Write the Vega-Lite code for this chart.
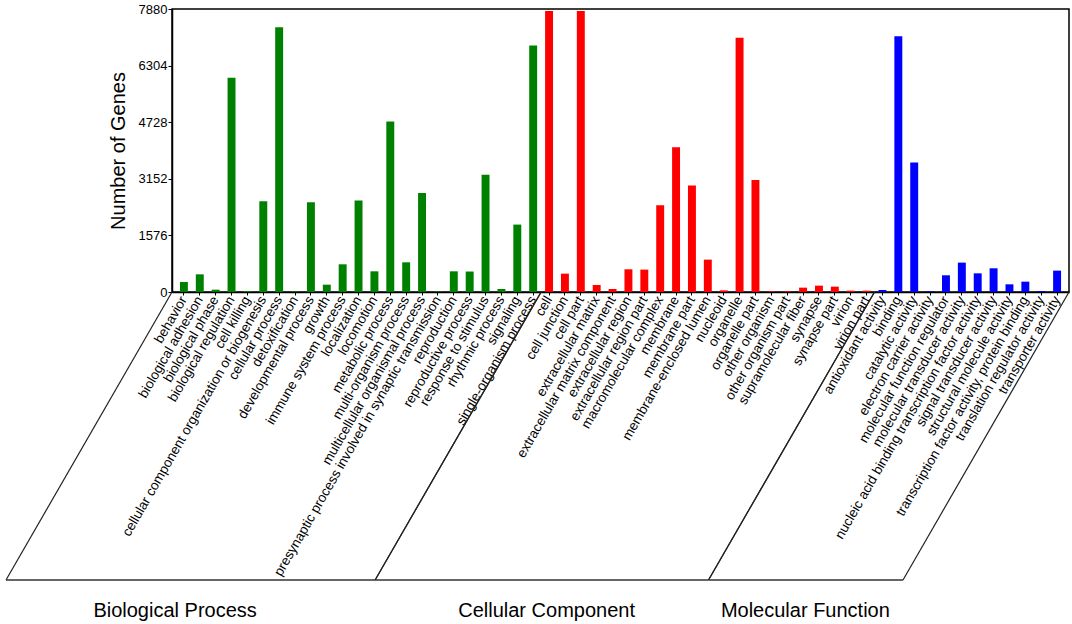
{
  "$schema": "https://vega.github.io/schema/vega-lite/v6.json",
  "width": 897,
  "height": 283,
  "autosize": "none",
  "padding": {"left": 172, "top": 9, "right": 3, "bottom": 332},
  "background": "white",
  "config": {
    "font": "Liberation Sans",
    "view": {"stroke": "black", "strokeWidth": 1.5}
  },
  "datasets": {
    "genes": [
      {"term": "behavior", "ontology": "Biological Process", "count": 279},
      {"term": "biological adhesion", "ontology": "Biological Process", "count": 492},
      {"term": "biological phase", "ontology": "Biological Process", "count": 65},
      {"term": "biological regulation", "ontology": "Biological Process", "count": 5965},
      {"term": "cell killing", "ontology": "Biological Process", "count": 28},
      {"term": "cellular component organization or biogenesis", "ontology": "Biological Process", "count": 2527},
      {"term": "cellular process", "ontology": "Biological Process", "count": 7369},
      {"term": "detoxification", "ontology": "Biological Process", "count": 15},
      {"term": "developmental process", "ontology": "Biological Process", "count": 2500},
      {"term": "growth", "ontology": "Biological Process", "count": 204},
      {"term": "immune system process", "ontology": "Biological Process", "count": 771},
      {"term": "localization", "ontology": "Biological Process", "count": 2546},
      {"term": "locomotion", "ontology": "Biological Process", "count": 576},
      {"term": "metabolic process", "ontology": "Biological Process", "count": 4748},
      {"term": "multi-organism process", "ontology": "Biological Process", "count": 827},
      {"term": "multicellular organismal process", "ontology": "Biological Process", "count": 2760},
      {"term": "presynaptic process involved in synaptic transmission", "ontology": "Biological Process", "count": 15},
      {"term": "reproduction", "ontology": "Biological Process", "count": 576},
      {"term": "reproductive process", "ontology": "Biological Process", "count": 570},
      {"term": "response to stimulus", "ontology": "Biological Process", "count": 3262},
      {"term": "rhythmic process", "ontology": "Biological Process", "count": 84},
      {"term": "signaling", "ontology": "Biological Process", "count": 1877},
      {"term": "single-organism process", "ontology": "Biological Process", "count": 6867},
      {"term": "cell", "ontology": "Cellular Component", "count": 7824},
      {"term": "cell junction", "ontology": "Cellular Component", "count": 511},
      {"term": "cell part", "ontology": "Cellular Component", "count": 7824},
      {"term": "extracellular matrix", "ontology": "Cellular Component", "count": 195},
      {"term": "extracellular matrix component", "ontology": "Cellular Component", "count": 84},
      {"term": "extracellular region", "ontology": "Cellular Component", "count": 632},
      {"term": "extracellular region part", "ontology": "Cellular Component", "count": 623},
      {"term": "macromolecular complex", "ontology": "Cellular Component", "count": 2416},
      {"term": "membrane", "ontology": "Cellular Component", "count": 4033},
      {"term": "membrane part", "ontology": "Cellular Component", "count": 2964},
      {"term": "membrane-enclosed lumen", "ontology": "Cellular Component", "count": 901},
      {"term": "nucleoid", "ontology": "Cellular Component", "count": 46},
      {"term": "organelle", "ontology": "Cellular Component", "count": 7081},
      {"term": "organelle part", "ontology": "Cellular Component", "count": 3122},
      {"term": "other organism", "ontology": "Cellular Component", "count": 20},
      {"term": "other organism part", "ontology": "Cellular Component", "count": 20},
      {"term": "supramolecular fiber", "ontology": "Cellular Component", "count": 121},
      {"term": "synapse", "ontology": "Cellular Component", "count": 177},
      {"term": "synapse part", "ontology": "Cellular Component", "count": 149},
      {"term": "virion", "ontology": "Cellular Component", "count": 37},
      {"term": "virion part", "ontology": "Cellular Component", "count": 37},
      {"term": "antioxidant activity", "ontology": "Molecular Function", "count": 56},
      {"term": "binding", "ontology": "Molecular Function", "count": 7118},
      {"term": "catalytic activity", "ontology": "Molecular Function", "count": 3605},
      {"term": "electron carrier activity", "ontology": "Molecular Function", "count": 20},
      {"term": "molecular function regulator", "ontology": "Molecular Function", "count": 465},
      {"term": "molecular transducer activity", "ontology": "Molecular Function", "count": 818},
      {"term": "nucleic acid binding transcription factor activity", "ontology": "Molecular Function", "count": 520},
      {"term": "signal transducer activity", "ontology": "Molecular Function", "count": 660},
      {"term": "structural molecule activity", "ontology": "Molecular Function", "count": 214},
      {"term": "transcription factor activity, protein binding", "ontology": "Molecular Function", "count": 288},
      {"term": "translation regulator activity", "ontology": "Molecular Function", "count": 28},
      {"term": "transporter activity", "ontology": "Molecular Function", "count": 595}
    ],
    "groups": [
      {"ontology": "Biological Process", "start": -0.75, "end": 22.5, "mid": 9.9},
      {"ontology": "Cellular Component", "start": 22.5, "end": 43.5, "mid": 33.3},
      {"ontology": "Molecular Function", "start": 43.5, "end": 55.75, "mid": 49.6}
    ]
  },
  "layer": [
    {
      "data": {"name": "genes"},
      "mark": {"type": "bar"},
      "encoding": {
        "x": {
          "field": "term",
          "type": "nominal",
          "sort": null,
          "scale": {"paddingInner": 0.5, "paddingOuter": 0.5},
          "axis": {
            "title": null,
            "labelAngle": -60,
            "labelAlign": "right",
            "labelBaseline": "middle",
            "labelFontSize": 13.5,
            "labelColor": "black",
            "labelLimit": 500,
            "labelOverlap": false,
            "labelPadding": 2,
            "tickSize": 3,
            "tickColor": "black",
            "domainColor": "black",
            "domainWidth": 1.5
          }
        },
        "y": {
          "field": "count",
          "type": "quantitative",
          "scale": {"domain": [0, 7880], "nice": false},
          "axis": {
            "title": "Number of Genes",
            "titleFontSize": 20,
            "titleFontWeight": "normal",
            "titleColor": "black",
            "titlePadding": 10,
            "values": [0, 1576, 3152, 4728, 6304, 7880],
            "format": "d",
            "labelFontSize": 13,
            "labelColor": "black",
            "labelPadding": 1,
            "tickSize": 4,
            "tickColor": "black",
            "grid": false,
            "domainColor": "black",
            "domainWidth": 1.5
          }
        },
        "color": {
          "field": "ontology",
          "type": "nominal",
          "scale": {
            "domain": ["Biological Process", "Cellular Component", "Molecular Function"],
            "range": ["#008000", "#ff0000", "#0000ff"]
          },
          "legend": null
        }
      }
    },
    {
      "data": {"name": "groups"},
      "mark": {"type": "rule", "color": "#222222", "strokeWidth": 1.2, "x2Offset": -166, "y2Offset": 288},
      "encoding": {
        "x": {"field": "start", "type": "quantitative", "scale": {"domain": [-0.75, 55.75], "nice": false, "zero": false}, "axis": null},
        "x2": {"field": "start"},
        "y": {"datum": 0},
        "y2": {"datum": 0}
      }
    },
    {
      "data": {"name": "groups"},
      "mark": {"type": "rule", "color": "#222222", "strokeWidth": 1.2, "x2Offset": -166, "y2Offset": 288},
      "encoding": {
        "x": {"field": "end", "type": "quantitative", "scale": {"domain": [-0.75, 55.75], "nice": false, "zero": false}, "axis": null},
        "x2": {"field": "end"},
        "y": {"datum": 0},
        "y2": {"datum": 0}
      }
    },
    {
      "data": {"name": "groups"},
      "mark": {"type": "rule", "color": "#333333", "strokeWidth": 1.5, "xOffset": -166, "x2Offset": -166, "yOffset": 288, "y2Offset": 288},
      "encoding": {
        "x": {"field": "start", "type": "quantitative", "scale": {"domain": [-0.75, 55.75], "nice": false, "zero": false}, "axis": null},
        "x2": {"field": "end"},
        "y": {"datum": 0},
        "y2": {"datum": 0}
      }
    },
    {
      "data": {"name": "groups"},
      "mark": {"type": "text", "fontSize": 20, "color": "black", "align": "center", "baseline": "middle", "xOffset": -166, "yOffset": 319},
      "encoding": {
        "x": {"field": "mid", "type": "quantitative", "scale": {"domain": [-0.75, 55.75], "nice": false, "zero": false}, "axis": null},
        "y": {"datum": 0},
        "text": {"field": "ontology"}
      }
    }
  ],
  "resolve": {"scale": {"x": "independent"}}
}
